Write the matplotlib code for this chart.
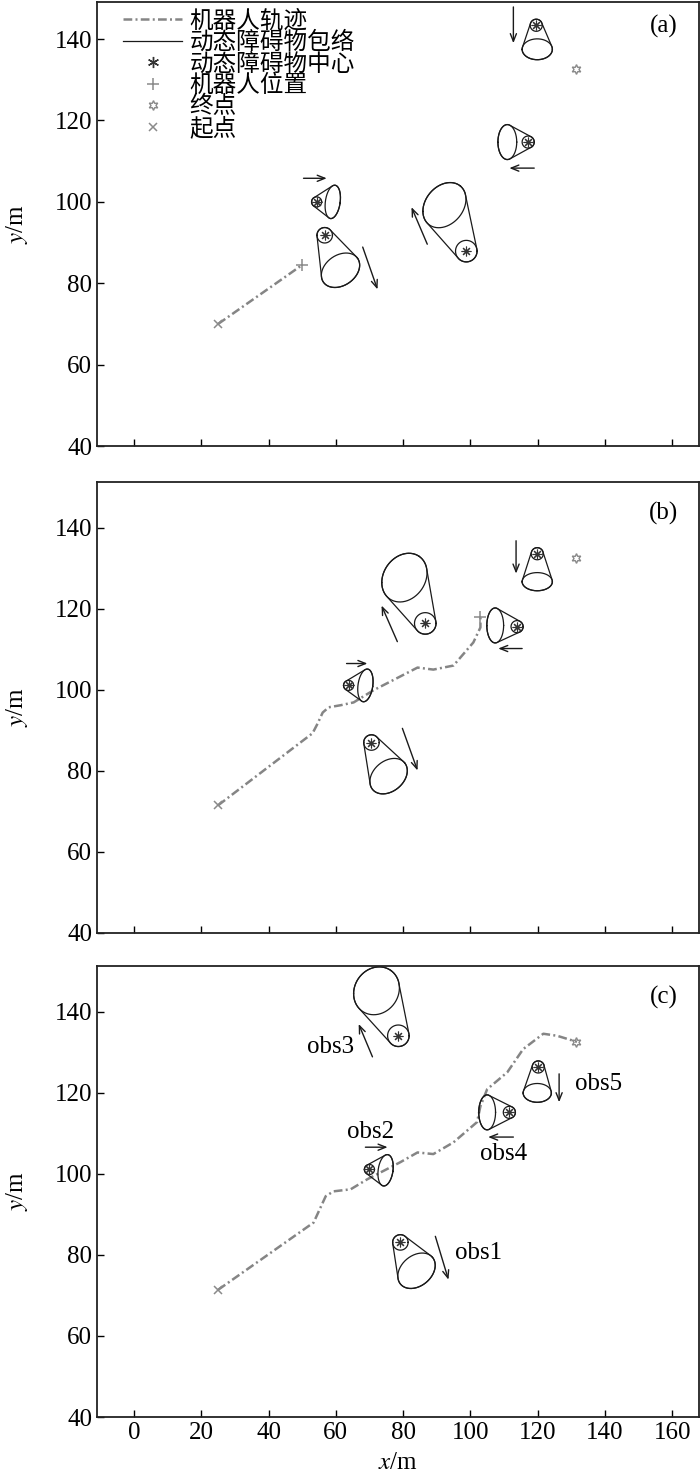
import numpy as np
import matplotlib
matplotlib.use('Agg')
import matplotlib.pyplot as plt
from matplotlib.lines import Line2D

plt.rcParams['font.family'] = ['Liberation Serif', 'Noto Sans CJK SC']
plt.rcParams['mathtext.fontset'] = 'stix'

# ---- data (metres) ----
obs_names = ['obs1', 'obs2', 'obs3', 'obs4', 'obs5']
small_r = [2.3, 1.5, 3.2, 1.8, 1.8]

goal_x, goal_y = 131.5, 132.6

# panel (a)
traj_a_x = [25, 50]
traj_a_y = [70, 84.5]
a_ctr_x = [56.7, 54.3, 98.8, 117.2, 119.6]
a_ctr_y = [91.8, 100, 87.9, 114.7, 143.4]
a_ell_x = [61.4, 59.1, 92.3, 111.0, 119.9]
a_ell_y = [83.2, 100, 99.2, 114.7, 137.5]
a_ell_a = [6.2, 2.2, 7.4, 2.8, 4.5]
a_ell_b = [4.5, 5.0, 5.6, 5.2, 3.1]
a_ell_ang = [35, -8, 50, 0, 0]
a_arr_x0 = [68, 50.4, 87.2, 119, 112.8]
a_arr_y0 = [88.9, 105.8, 89.6, 108.3, 147.9]
a_arr_x1 = [72.4, 57.3, 82.5, 111.6, 112.8]
a_arr_y1 = [78.5, 105.8, 98.7, 108.3, 139]

# panel (b)
traj_b_x = [25, 53.1, 54.6, 56.1, 57.9, 61.4, 65.3, 71.2, 84.3, 89, 95, 100.9, 103, 103]
traj_b_y = [71.5, 89.3, 91.7, 94.4, 95.7, 96.2, 96.9, 99.9, 105.5, 105, 106, 111.7, 115.4, 118.1]
b_ctr_x = [70.6, 63.8, 86.6, 113.9, 119.9]
b_ctr_y = [87.0, 101.1, 116.4, 115.6, 133.6]
b_ell_x = [75.7, 68.8, 80.4, 107.4, 119.9]
b_ell_y = [78.7, 101.1, 127.7, 115.9, 126.7]
b_ell_a = [6.2, 2.2, 7.7, 2.5, 4.5]
b_ell_b = [4.5, 4.9, 6.2, 5.2, 2.7]
b_ell_ang = [40, -8, 55, 0, 0]
b_arr_x0 = [79.8, 63.2, 78.3, 115.4, 113.6]
b_arr_y0 = [90.5, 106.5, 111.9, 110.2, 136.8]
b_arr_x1 = [84.3, 69.4, 73.6, 108.3, 113.6]
b_arr_y1 = [80.1, 106.5, 120.8, 110.2, 128.7]

# panel (c)
traj_c_x = [25, 53.4, 57, 59.3, 64.4, 69.4, 79.2, 84.3, 89, 95, 102, 103, 105, 111, 115.7, 121.7, 125.8, 131.7]
traj_c_y = [71.4, 88, 94.5, 95.7, 96.2, 98.7, 102.9, 105.3, 104.9, 107.8, 112.8, 116.7, 120.9, 125.1, 130.8, 134.6, 134.1, 132.6]
c_ctr_x = [79.2, 70, 78.6, 111.6, 120.2]
c_ctr_y = [83.1, 101.1, 134.1, 115.2, 126.4]
c_ell_x = [84, 74.8, 72.1, 105, 119.9]
c_ell_y = [76.1, 100.9, 145.2, 115.2, 120]
c_ell_a = [6.2, 2.2, 7.4, 2.5, 4.2]
c_ell_b = [4.5, 4.7, 6.5, 5.2, 2.8]
c_ell_ang = [40, -8, 55, 0, 0]
c_arr_x0 = [89.6, 68.8, 70.9, 112.8, 126.4]
c_arr_y0 = [84.6, 106.6, 128.9, 109.1, 124.7]
c_arr_x1 = [93.5, 75.4, 66.8, 105.3, 126.4]
c_arr_y1 = [73.9, 106.6, 137, 109.1, 117.7]
c_lab_x = [102.4, 70.3, 58.5, 109.8, 138]
c_lab_y = [80.6, 110.3, 131.3, 104.9, 122.2]

TRAJ_COLOR = '#858585'
TRAJ_LS = (0, (3.5, 1.3, 0.8, 1.3))
MARK_COLOR = '#8a8a8a'


def hull(pts):
    pts = sorted(map(tuple, pts))
    def cross(o, a, b):
        return (a[0]-o[0])*(b[1]-o[1]) - (a[1]-o[1])*(b[0]-o[0])
    lower, upper = [], []
    for p in pts:
        while len(lower) >= 2 and cross(lower[-2], lower[-1], p) <= 0:
            lower.pop()
        lower.append(p)
    for p in reversed(pts):
        while len(upper) >= 2 and cross(upper[-2], upper[-1], p) <= 0:
            upper.pop()
        upper.append(p)
    return np.array(lower[:-1] + upper[:-1])


def draw_obstacle(ax, cx, cy, r, ex, ey, a, b, ang):
    T = ax.transData
    k = T.transform((1, 0))[0] - T.transform((0, 0))[0]   # px per metre
    t = np.linspace(0, 2*np.pi, 240)
    circ = T.transform((cx, cy)) + k*r*np.column_stack([np.cos(t), np.sin(t)])
    th = np.radians(ang)
    u, v = a*np.cos(t), b*np.sin(t)
    ell = T.transform((ex, ey)) + k*np.column_stack([u*np.cos(th) - v*np.sin(th),
                                                       u*np.sin(th) + v*np.cos(th)])
    h = hull(np.vstack([circ, ell]))
    inv = T.inverted()
    for p in (circ, ell, np.vstack([h, h[:1]])):
        d = inv.transform(p)
        ax.plot(d[:, 0], d[:, 1], color='#1a1a1a', lw=0.9)
    ax.plot(cx, cy, marker=(8, 2, 0), ms=7, mew=0.8, color='#333333', ls='none')


def setup(ax, ytop, tag, tag_y):
    ax.set_xlim(-11, 168)
    ax.set_ylim(40, ytop)
    ax.set_xticks(range(0, 161, 20))
    ax.set_yticks(range(40, 141, 20))
    ax.tick_params(direction='in', length=5, width=1, labelsize=18, top=False, right=False)
    for s in ax.spines.values():
        s.set_linewidth(1.3)
        s.set_color('#222222')
    ax.set_ylabel('$y$/m', fontsize=18, labelpad=2)
    ax.yaxis.set_label_coords(-0.112, 0.5)
    ax.text(0.965, tag_y, tag, transform=ax.transAxes, ha='right', va='top', fontsize=18)


def draw_panel(ax, tx, ty, cxs, cys, exs, eys, eas, ebs, angs, ax0, ay0, ax1, ay1, show_robot):
    ax.plot(tx, ty, color=TRAJ_COLOR, ls=TRAJ_LS, lw=1.8)
    ax.plot(tx[0], ty[0], 'x', color=MARK_COLOR, ms=6, mew=1.1)
    if show_robot:
        ax.plot(tx[-1], ty[-1], '+', color=MARK_COLOR, ms=9, mew=1.1)
    ax.plot(goal_x, goal_y, marker=(6, 1, 0), ms=7, mew=1.0, color=MARK_COLOR, fillstyle='none', ls='none')
    for i in range(len(cxs)):
        draw_obstacle(ax, cxs[i], cys[i], small_r[i], exs[i], eys[i], eas[i], ebs[i], angs[i])
        ax.annotate('', xy=(ax1[i], ay1[i]), xytext=(ax0[i], ay0[i]),
                    arrowprops=dict(arrowstyle='->,head_length=0.55,head_width=0.22', color='#1a1a1a', lw=1.0,
                                    shrinkA=0, shrinkB=0))


fig = plt.figure(figsize=(7, 14.79), dpi=100)
ax_a = fig.add_axes([0.1386, 0.6984, 0.86, 0.3002])
ax_b = fig.add_axes([0.1386, 0.3692, 0.86, 0.3049])
ax_c = fig.add_axes([0.1386, 0.0419, 0.86, 0.3049])

setup(ax_a, 149.1, '(a)', 0.97)
setup(ax_b, 151.3, '(b)', 0.955)
setup(ax_c, 151.3, '(c)', 0.955)
ax_a.tick_params(labelbottom=False)
ax_b.tick_params(labelbottom=False)
ax_c.set_xlabel('$x$/m', fontsize=18, labelpad=6)

draw_panel(ax_a, traj_a_x, traj_a_y, a_ctr_x, a_ctr_y, a_ell_x, a_ell_y, a_ell_a, a_ell_b, a_ell_ang,
           a_arr_x0, a_arr_y0, a_arr_x1, a_arr_y1, True)
draw_panel(ax_b, traj_b_x, traj_b_y, b_ctr_x, b_ctr_y, b_ell_x, b_ell_y, b_ell_a, b_ell_b, b_ell_ang,
           b_arr_x0, b_arr_y0, b_arr_x1, b_arr_y1, True)
draw_panel(ax_c, traj_c_x, traj_c_y, c_ctr_x, c_ctr_y, c_ell_x, c_ell_y, c_ell_a, c_ell_b, c_ell_ang,
           c_arr_x0, c_arr_y0, c_arr_x1, c_arr_y1, False)

for name, x, y in zip(obs_names, c_lab_x, c_lab_y):
    ax_c.text(x, y, name, ha='center', va='center', fontsize=18)

handles = [
    Line2D([], [], color=TRAJ_COLOR, ls=TRAJ_LS, lw=1.8),
    Line2D([], [], color='#1a1a1a', lw=0.9),
    Line2D([], [], marker=(6, 2, 0), ms=8, mew=1.0, color='#333333', ls='none'),
    Line2D([], [], marker='+', ms=9, mew=1.1, color=MARK_COLOR, ls='none'),
    Line2D([], [], marker=(6, 1, 0), ms=7, mew=1.0, color=MARK_COLOR, fillstyle='none', ls='none'),
    Line2D([], [], marker='x', ms=6, mew=1.1, color=MARK_COLOR, ls='none'),
]
labels = ['机器人轨迹', '动态障碍物包络', '动态障碍物中心', '机器人位置', '终点', '起点']
ax_a.legend(handles, labels, loc='upper left', bbox_to_anchor=(0.03, 1.0), frameon=False,
            fontsize=17, handlelength=2.5, handletextpad=0.3, labelspacing=-0.04,
            borderaxespad=0.0, borderpad=0.35)

fig.savefig('out.png', dpi=100)
